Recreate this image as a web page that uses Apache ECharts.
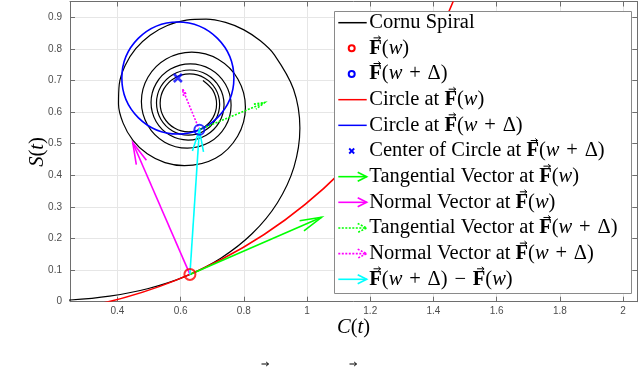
<!DOCTYPE html>
<html>
<head>
<meta charset="utf-8">
<script src="https://cdn.jsdelivr.net/npm/echarts@6/dist/echarts.min.js"></script>
<style>
html, body { margin: 0; padding: 0; background: #fff; }
#chart { width: 640px; height: 367px; }
</style>
</head>
<body>
<div id="chart"></div>
<script>
// Cornu spiral (C(t), S(t)) points
var spiralC = [0, 0.1253, 0.2506, 0.3752, 0.4982, 0.6171, 0.7283, 0.8267, 0.9059, 0.9586,
  0.9774, 0.9573, 0.8967, 0.8523, 0.8003, 0.7422, 0.6807, 0.6181, 0.5580, 0.5034,
  0.4580, 0.4245, 0.4059, 0.4035, 0.4181, 0.4492, 0.4944, 0.5505,
  0.6119, 0.7103, 0.7803, 0.8051, 0.7815, 0.7187, 0.6353, 0.5543, 0.4966, 0.4759,
  0.4959, 0.5495, 0.6211, 0.6912, 0.7416, 0.7597, 0.7420, 0.6945, 0.6307, 0.5680,
  0.5228, 0.5064, 0.5224, 0.5655, 0.6237, 0.6810, 0.7224, 0.7374, 0.7226, 0.6828,
  0.6291, 0.5760, 0.5376, 0.5237, 0.5374, 0.5745, 0.6247, 0.6744, 0.7104, 0.7235,
  0.7106, 0.6756, 0.6284, 0.5815, 0.5475, 0.5352, 0.5474, 0.5805, 0.6253, 0.6697,
  0.7020, 0.7138, 0.7022, 0.6707];
var spiralS = [0, 0.0007, 0.0053, 0.0177, 0.0418, 0.0811, 0.1385, 0.2157, 0.3125, 0.4258,
  0.5493, 0.6724, 0.7813, 0.8256, 0.8602, 0.8837, 0.8943, 0.8912, 0.8742, 0.8435,
  0.8007, 0.7478, 0.6883, 0.6257, 0.5652, 0.5107, 0.4679, 0.4400,
  0.4304, 0.4537, 0.5235, 0.6153, 0.7042, 0.7671, 0.7896, 0.7680, 0.7104, 0.6336,
  0.5586, 0.5049, 0.4857, 0.5044, 0.5546, 0.6220, 0.6881, 0.7357, 0.7529, 0.7361,
  0.6909, 0.6302, 0.5703, 0.5272, 0.5115, 0.5269, 0.5682, 0.6240, 0.6791, 0.7189,
  0.7333, 0.7191, 0.6808, 0.6289, 0.5776, 0.5404, 0.5270, 0.5403, 0.5762, 0.6249,
  0.6731, 0.7080, 0.7207, 0.7082, 0.6742, 0.6282, 0.5826, 0.5495, 0.5375, 0.5494,
  0.5817, 0.6254, 0.6688, 0.7003];

var pointW = [0.6294, 0.0864];          // F(w)
var pointWD = [0.6594, 0.5442];         // F(w + Delta)
var centerWD = [0.5913, 0.7079];        // centre of circle at F(w + Delta)

// circles: [cx, cy, radius]
var circleW = [0.0072, 1.5197, 1.5625];
var circleWD = [0.5913, 0.7079, 0.1773];

// vectors: [x0, y0, x1, y1]
var tangentW = [0.6294, 0.0864, 1.0459, 0.2672];
var normalW = [0.6294, 0.0864, 0.4486, 0.5029];
var tangentWD = [0.6594, 0.5442, 0.8662, 0.6302];
var normalWD = [0.6594, 0.5442, 0.6064, 0.6722];
var diffVec = [0.6294, 0.0864, 0.6594, 0.5442];

var xTicks = [0.4, 0.6, 0.8, 1, 1.2, 1.4, 1.6, 1.8, 2];
var yTicks = [0, 0.1, 0.2, 0.3, 0.4, 0.5, 0.6, 0.7, 0.8, 0.9];

var SP = '\u2004';  // a bit wider math spacing around + and -
var legendLabels = [
  [['r', 'Cornu Spiral']],
  [['b', 'F'], ['r', '('], ['i', 'w'], ['r', ')']],
  [['b', 'F'], ['r', '('], ['i', 'w'], ['r', SP + '+' + SP + 'Δ)']],
  [['r', 'Circle at '], ['b', 'F'], ['r', '('], ['i', 'w'], ['r', ')']],
  [['r', 'Circle at '], ['b', 'F'], ['r', '('], ['i', 'w'], ['r', SP + '+' + SP + 'Δ)']],
  [['r', 'Center of Circle at '], ['b', 'F'], ['r', '('], ['i', 'w'], ['r', SP + '+' + SP + 'Δ)']],
  [['r', 'Tangential Vector at '], ['b', 'F'], ['r', '('], ['i', 'w'], ['r', ')']],
  [['r', 'Normal Vector at '], ['b', 'F'], ['r', '('], ['i', 'w'], ['r', ')']],
  [['r', 'Tangential Vector at '], ['b', 'F'], ['r', '('], ['i', 'w'], ['r', SP + '+' + SP + 'Δ)']],
  [['r', 'Normal Vector at '], ['b', 'F'], ['r', '('], ['i', 'w'], ['r', SP + '+' + SP + 'Δ)']],
  [['b', 'F'], ['r', '('], ['i', 'w'], ['r', SP + '+' + SP + 'Δ)' + SP + '−' + SP], ['b', 'F'], ['r', '('], ['i', 'w'], ['r', ')']]
];
var legendIcons = ['line', 'circle', 'circle', 'line', 'line', 'cross', 'arrow', 'arrow', 'arrowDot', 'arrowDot', 'arrow'];
var legendColors = ['#000', '#ff0000', '#0000ff', '#ff0000', '#0000ff', '#0000ff', '#00ff00', '#ff00ff', '#00ff00', '#ff00ff', '#00ffff'];

var serif = '"Liberation Serif", "Times New Roman", serif';
var sans = '"Liberation Sans", Arial, Helvetica, sans-serif';
var FS = 20.5;
var axisGray = '#6e6e6e';

var chart = echarts.init(document.getElementById('chart'));

var spiralData = spiralC.map(function (c, i) { return [c, spiralS[i]]; });

function circleItem(color, width) {
  return function (params, api) {
    var c = api.coord([api.value(0), api.value(1)]);
    var r = api.size([api.value(2), 0])[0];
    return {
      type: 'circle',
      shape: { cx: c[0], cy: c[1], r: r },
      style: { fill: 'none', stroke: color, lineWidth: width }
    };
  };
}

function arrowItem(color, width, dash) {
  return function (params, api) {
    var p0 = api.coord([api.value(0), api.value(1)]);
    var p1 = api.coord([api.value(2), api.value(3)]);
    var dx = p1[0] - p0[0], dy = p1[1] - p0[1];
    var len = Math.sqrt(dx * dx + dy * dy);
    var ux = dx / len, uy = dy / len;
    var h = len * 0.155, a = 0.25;
    var ca = Math.cos(a), sa = Math.sin(a);
    var b1 = [p1[0] - h * (ux * ca - uy * sa), p1[1] - h * (uy * ca + ux * sa)];
    var b2 = [p1[0] - h * (ux * ca + uy * sa), p1[1] - h * (uy * ca - ux * sa)];
    var st = { stroke: color, lineWidth: width, fill: 'none', lineDash: dash || null };
    return {
      type: 'group',
      children: [
        { type: 'polyline', shape: { points: [p0, p1] }, style: st },
        { type: 'polyline', shape: { points: [b1, p1, b2] }, style: st }
      ]
    };
  };
}

function arrowSeries(name, vec, color, dash) {
  return {
    name: name, type: 'custom', clip: true, z: 4,
    encode: { x: [0, 2], y: [1, 3] },
    renderItem: arrowItem(color, 1.6, dash),
    data: [vec]
  };
}

// ---- legend drawn by hand ----
var rich = {
  r: { fontFamily: serif, fontSize: FS, color: '#000' },
  b: { fontFamily: serif, fontSize: FS, fontWeight: 'bold', color: '#000' },
  i: { fontFamily: serif, fontSize: FS, fontStyle: 'italic', color: '#000' }
};
var fonts = {
  r: FS + 'px ' + serif,
  b: 'bold ' + FS + 'px ' + serif,
  i: 'italic ' + FS + 'px ' + serif
};
var mctx = document.createElement('canvas').getContext('2d');
function measure(st, t) { mctx.font = fonts[st]; return mctx.measureText(t).width; }

function vecArrow(cx, y) {
  var st = { stroke: '#000', lineWidth: 1, fill: 'none' };
  return [
    { type: 'polyline', z: 101, shape: { points: [[cx - 3.5, y], [cx + 3.5, y]] }, style: st },
    { type: 'polyline', z: 101, shape: { points: [[cx + 1.2, y - 2], [cx + 3.5, y], [cx + 1.2, y + 2]] }, style: st }
  ];
}

var LX = 334, LY = 11, LW = 297, LH = 282;
var rowY0 = 22.7, rowDY = 25.66;
var iconX0 = 338.3, iconX1 = 366.7, iconMid = 351.7, textX = 369.3;

var gfx = [{
  type: 'rect', z: 100,
  shape: { x: LX + 0.5, y: LY + 0.5, width: LW, height: LH },
  style: { fill: '#fff', stroke: '#8a8a8a', lineWidth: 1 }
}];

legendLabels.forEach(function (segs, i) {
  var y = rowY0 + i * rowDY;
  var col = legendColors[i];
  var icon = legendIcons[i];
  if (icon === 'line') {
    gfx.push({ type: 'line', z: 101, shape: { x1: iconX0, y1: y, x2: iconX1, y2: y }, style: { stroke: col, lineWidth: 1.5 } });
  } else if (icon === 'circle') {
    gfx.push({ type: 'circle', z: 101, shape: { cx: iconMid, cy: y, r: 3 }, style: { fill: 'none', stroke: col, lineWidth: 2 } });
  } else if (icon === 'cross') {
    gfx.push({ type: 'polyline', z: 101, shape: { points: [[iconMid - 2.5, y - 2.5], [iconMid + 2.5, y + 2.5]] }, style: { stroke: col, lineWidth: 1.8, fill: 'none' } });
    gfx.push({ type: 'polyline', z: 101, shape: { points: [[iconMid - 2.5, y + 2.5], [iconMid + 2.5, y - 2.5]] }, style: { stroke: col, lineWidth: 1.8, fill: 'none' } });
  } else {
    var dash = icon === 'arrowDot' ? [2, 1.5] : null;
    gfx.push({ type: 'polyline', z: 101, shape: { points: [[iconX0, y], [iconX1, y]] }, style: { stroke: col, lineWidth: 1.6, fill: 'none', lineDash: dash } });
    gfx.push({ type: 'polyline', z: 101, shape: { points: [[iconX1 - 9, y - 4.5], [iconX1, y], [iconX1 - 9, y + 4.5]] }, style: { stroke: col, lineWidth: 1.6, fill: 'none', lineDash: dash } });
  }
  var text = '';
  var off = 0;
  segs.forEach(function (s) {
    text += '{' + s[0] + '|' + s[1] + '}';
    var w = measure(s[0], s[1]);
    if (s[0] === 'b' && s[1] === 'F') {
      gfx = gfx.concat(vecArrow(textX + off + w / 2 + 1.5, y - 10.5));
    }
    off += w;
  });
  gfx.push({
    type: 'text', z: 101, x: textX, y: y,
    style: { text: text, rich: rich, verticalAlign: 'middle', align: 'left' }
  });
});

// axis titles
gfx.push({
  type: 'text', x: 353.5, y: 328,
  style: { text: '{i|C}{r|(}{i|t}{r|)}', rich: rich, align: 'center', verticalAlign: 'middle' }
});
gfx.push({
  type: 'text', x: 37.5, y: 152, rotation: Math.PI / 2,
  style: { text: '{i|S}{r|(}{i|t}{r|)}', rich: rich, align: 'center', verticalAlign: 'middle' }
});
// tops of the cut-off caption below the figure
gfx = gfx.concat(vecArrow(265, 364), vecArrow(353, 364));

function valueAxis(pos, min, max, ticks, main) {
  return {
    type: 'value', position: pos, min: min, max: max,
    axisLine: { show: true, onZero: false, lineStyle: { color: axisGray, width: 1 } },
    axisTick: { show: true, inside: true, length: 5, customValues: ticks, lineStyle: { color: axisGray } },
    axisLabel: {
      show: main, customValues: ticks, fontSize: 10, fontFamily: sans, color: '#4d4d4d',
      margin: pos === 'bottom' ? 5 : 8
    },
    splitLine: { show: main, lineStyle: { color: '#e6e6e6', width: 1 } }
  };
}

chart.setOption({
  animation: false,
  backgroundColor: '#fff',
  grid: { left: 70, top: 1.5, width: 567.3, height: 300.2, containLabel: false, outerBoundsMode: 'none' },
  xAxis: [
    valueAxis('bottom', 0.25, 2.045, xTicks, true),
    valueAxis('top', 0.25, 2.045, xTicks, false)
  ],
  yAxis: [
    valueAxis('left', 0, 0.95, yTicks, true),
    valueAxis('right', 0, 0.95, yTicks, false)
  ],
  graphic: gfx,
  series: [
    {
      name: 'Cornu Spiral', type: 'line', data: spiralData, showSymbol: false,
      smooth: 0.35, clip: true, z: 2,
      lineStyle: { color: '#000', width: 1.2 }
    },
    {
      name: 'Circle at F(w)', type: 'custom', clip: true, z: 3,
      encode: { x: 0, y: 1 }, renderItem: circleItem('#ff0000', 1.6), data: [circleW]
    },
    {
      name: 'Circle at F(w+Δ)', type: 'custom', clip: true, z: 3,
      encode: { x: 0, y: 1 }, renderItem: circleItem('#0000ff', 1.6), data: [circleWD]
    },
    arrowSeries('Tangential Vector at F(w)', tangentW, '#00ff00'),
    arrowSeries('Normal Vector at F(w)', normalW, '#ff00ff'),
    arrowSeries('Tangential Vector at F(w+Δ)', tangentWD, '#00ff00', [2, 1.5]),
    arrowSeries('Normal Vector at F(w+Δ)', normalWD, '#ff00ff', [2, 1.5]),
    arrowSeries('F(w+Δ) − F(w)', diffVec, '#00ffff'),
    {
      name: 'F(w)', type: 'scatter', z: 5, symbol: 'circle', symbolSize: 11,
      itemStyle: { color: 'rgba(0,0,0,0)', borderColor: '#ff0000', borderWidth: 2 },
      data: [pointW]
    },
    {
      name: 'F(w+Δ)', type: 'scatter', z: 5, symbol: 'circle', symbolSize: 10,
      itemStyle: { color: 'rgba(0,0,0,0)', borderColor: '#0000ff', borderWidth: 2 },
      data: [pointWD]
    },
    {
      name: 'Center of Circle at F(w+Δ)', type: 'scatter', z: 5,
      symbol: 'path://M0,0L10,10M10,0L0,10', symbolSize: 8,
      itemStyle: { color: 'rgba(0,0,0,0)', borderColor: '#0000ff', borderWidth: 2.5 },
      data: [centerWD]
    }
  ]
});
</script>
</body>
</html>
